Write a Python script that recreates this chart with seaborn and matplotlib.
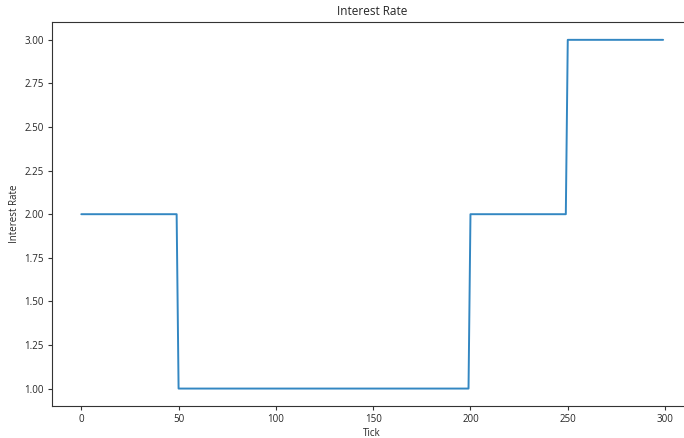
import matplotlib
matplotlib.use("Agg")
import matplotlib.pyplot as plt
import seaborn as sns
import numpy as np
import pandas as pd

# Data: interest rate per tick (piecewise regimes)
regime_starts = [0, 50, 200, 250]
regime_ends = [50, 200, 250, 300]
regime_rates = [2.0, 1.0, 2.0, 3.0]

ticks = []
rates = []
for s, e, r in zip(regime_starts, regime_ends, regime_rates):
    for t in range(s, e):
        ticks.append(t)
        rates.append(r)

df = pd.DataFrame({"Tick": ticks, "Interest Rate": rates})

sns.set_style("ticks")
plt.rcParams['font.family'] = ['Open Sans', 'DejaVu Sans']

fig = plt.figure(figsize=(6.84, 4.38), dpi=100)
ax = fig.add_axes([52.2 / 684, 32 / 438, 640 / 684, 383.6 / 438])
sns.lineplot(data=df, x="Tick", y="Interest Rate", ax=ax, color="#3387c2", linewidth=1.4)

ax.set_title("Interest Rate", fontsize=8.5, pad=5)
ax.set_xlabel("Tick", fontsize=7, labelpad=2)
ax.set_ylabel("Interest Rate", fontsize=7, labelpad=3)
yt = [1.0, 1.25, 1.5, 1.75, 2.0, 2.25, 2.5, 2.75, 3.0]
ax.set_yticks(yt)
ax.set_yticklabels([f"{v:.2f}" for v in yt])
ax.set_xticks([0, 50, 100, 150, 200, 250, 300])
ax.tick_params(labelsize=7, length=3, width=0.8, color="#333333", pad=3)
for sp in ax.spines.values():
    sp.set_color("#333333")
    sp.set_linewidth(0.8)
ax.spines["right"].set_visible(False)

fig.savefig("out.png", dpi=100)
